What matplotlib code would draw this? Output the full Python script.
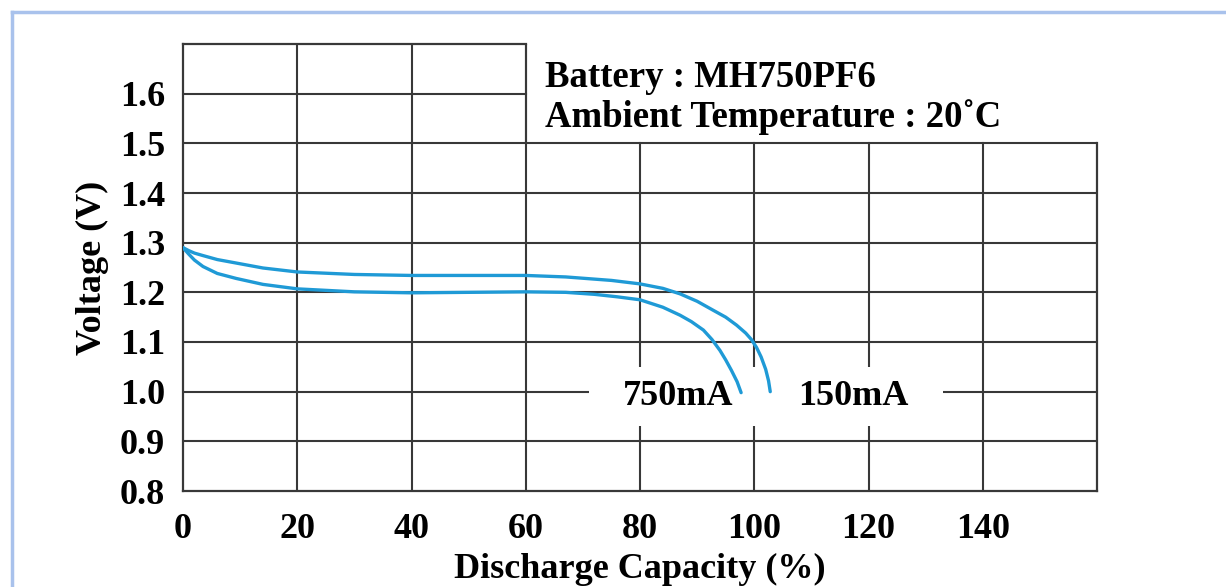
import numpy as np
import matplotlib.pyplot as plt
from matplotlib.patches import Rectangle
from matplotlib.lines import Line2D

# discharge curves
cap_150 = [0, 1, 2, 3.5, 6, 9.3, 14, 20, 30, 40, 50, 60, 67, 75, 80, 84, 87, 90, 92.8, 95, 96.9, 98.5, 99.5, 100.4, 101.2, 102, 102.5, 102.8]
volt_150 = [1.29, 1.284, 1.279, 1.274, 1.266, 1.259, 1.249, 1.241, 1.236, 1.234, 1.234, 1.234, 1.231, 1.224, 1.217, 1.208, 1.197, 1.182, 1.164, 1.150, 1.134, 1.118, 1.105, 1.089, 1.070, 1.045, 1.022, 1.0]

cap_750 = [0, 1, 2, 3.5, 6, 9.3, 14, 20, 30, 40, 50, 60, 67, 72, 76, 80, 84, 87, 89, 91.1, 92.6, 94, 95, 96, 97, 97.7]
volt_750 = [1.29, 1.277, 1.265, 1.252, 1.238, 1.228, 1.216, 1.207, 1.201, 1.199, 1.200, 1.201, 1.200, 1.196, 1.191, 1.185, 1.170, 1.154, 1.141, 1.124, 1.105, 1.083, 1.064, 1.043, 1.020, 0.998]

xticks = [0, 20, 40, 60, 80, 100, 120, 140, 160]
xlabels = ['0', '20', '40', '60', '80', '100', '120', '140', '']
yticks = [0.8, 0.9, 1.0, 1.1, 1.2, 1.3, 1.4, 1.5, 1.6, 1.7]
ylabels = ['0.8', '0.9', '1.0', '1.1', '1.2', '1.3', '1.4', '1.5', '1.6', '']

plt.rcParams['font.family'] = 'Liberation Serif'
plt.rcParams['font.weight'] = 'bold'
plt.rcParams['axes.labelweight'] = 'bold'

fig = plt.figure(figsize=(12.26, 5.87), dpi=100)
ax = fig.add_axes([183/1226, 1-491/587, (1097-183)/1226, (491-44)/587])

gc = '#383838'
lc = '#1f9ad6'
fs = 26

ax.set_xlim(0, 160)
ax.set_ylim(0.8, 1.7)

# grid with notch in the upper right where the caption sits
for x in xticks[1:-1]:
    top = 1.7 if x <= 60 else 1.5
    ax.plot([x, x], [0.8, top], color=gc, lw=1.5, zorder=1)
for y in yticks[1:-1]:
    right = 160 if y <= 1.5 else 60
    ax.plot([0, right], [y, y], color=gc, lw=1.5, zorder=1)
ax.plot([60, 60], [1.5, 1.7], color=gc, lw=1.5, zorder=1)

for s in ['left', 'right', 'top', 'bottom']:
    ax.spines[s].set_color(gc)
    ax.spines[s].set_linewidth(1.6)
ax.spines['top'].set_bounds(0, 60)
ax.spines['right'].set_bounds(0.8, 1.5)

# white gap behind curve labels
ax.add_patch(Rectangle((71, 0.93), 62, 0.12, facecolor='white', edgecolor='none', zorder=2))

ax.plot(cap_150, volt_150, color=lc, lw=2.4, zorder=3, solid_capstyle='round', solid_joinstyle='round')
ax.plot(cap_750, volt_750, color=lc, lw=2.4, zorder=3, solid_capstyle='round', solid_joinstyle='round')

ax.text(86.6, 0.99, '750mA', fontsize=fs, ha='center', va='center', zorder=4)
ax.text(117.4, 0.99, '150mA', fontsize=fs, ha='center', va='center', zorder=4)

ax.text(63.4, 1.632, 'Battery : MH750PF6', fontsize=26.5, ha='left', va='center')
ax.text(63.4, 1.553, 'Ambient Temperature : 20˚C', fontsize=26.5, ha='left', va='center')

ax.set_xticks(xticks)
ax.set_xticklabels(xlabels, fontsize=fs)
ax.set_yticks(yticks)
ax.set_yticklabels(ylabels, fontsize=fs)
ax.tick_params(axis='both', length=0)
ax.tick_params(axis='x', pad=16)
ax.tick_params(axis='y', pad=13)

ax.set_xlabel('Discharge Capacity (%)', fontsize=fs, labelpad=5)
ax.set_ylabel('Voltage (V)', fontsize=fs, labelpad=8)

# light blue frame of the picture
fig.add_artist(Line2D([12/1226, 12/1226], [0, 1-12/587], color='#a9c2ec', lw=2.5))
fig.add_artist(Line2D([12/1226, 1], [1-12/587, 1-12/587], color='#a9c2ec', lw=2.5))

fig.savefig('out.png', dpi=100)
